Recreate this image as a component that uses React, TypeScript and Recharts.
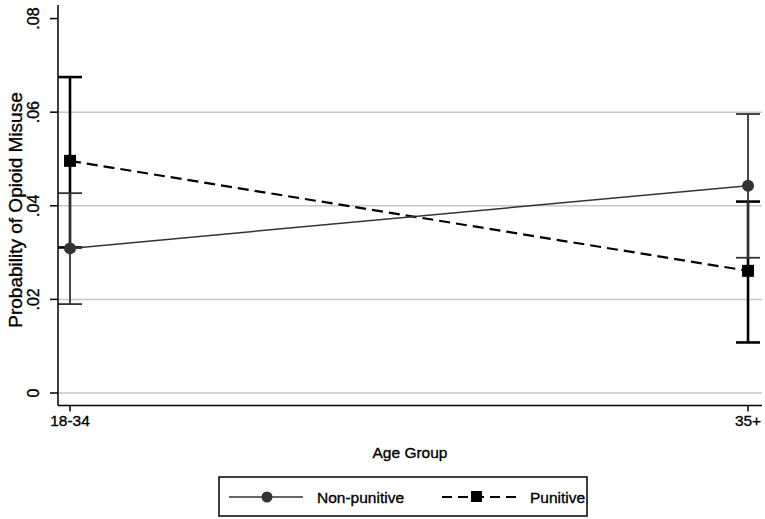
import React from 'react';
import { ComposedChart, Line, XAxis, YAxis, ErrorBar, ReferenceLine, Customized } from 'recharts';

const categories = ['18-34', '35+'];
const nonPunitive = [0.0309, 0.0443];
const nonPunitiveLow = [0.019, 0.0289];
const nonPunitiveHigh = [0.0427, 0.0596];
const punitive = [0.0496, 0.0261];
const punitiveLow = [0.0311, 0.0108];
const punitiveHigh = [0.0675, 0.0409];
const yTicks = [0, 0.02, 0.04, 0.06, 0.08];
const gridValues = [0, 0.02, 0.04, 0.06];

const FONT = '"Liberation Sans", Arial, Helvetica, sans-serif';
const THICK = { stroke: '#000', strokeWidth: 0.35 };

const data = categories.map((c, i) => ({
  x: i,
  np: nonPunitive[i],
  npErr: [nonPunitive[i] - nonPunitiveLow[i], nonPunitiveHigh[i] - nonPunitive[i]],
  p: punitive[i],
  pErr: [punitive[i] - punitiveLow[i], punitiveHigh[i] - punitive[i]],
}));

const fmtY = (v: number) => (v === 0 ? '0' : v.toFixed(2).replace(/^0/, ''));

const YTick = (props: any) => {
  const { y, payload } = props;
  return (
    <text
      x={39}
      y={y}
      transform={`rotate(-90 39 ${y})`}
      textAnchor="middle"
      fontSize={16}
      fill="#000"
      fontFamily={FONT}
      {...THICK}
    >
      {fmtY(payload.value)}
    </text>
  );
};

const XTick = (props: any) => {
  const { x, y, payload } = props;
  return (
    <text x={x} y={y} dy={12} textAnchor="middle" fontSize={15.5} fill="#000" fontFamily={FONT} {...THICK}>
      {categories[payload.value]}
    </text>
  );
};

const CircleDot = (props: any) => {
  const { cx, cy } = props;
  if (cx == null || cy == null) return null;
  return <circle cx={cx} cy={cy} r={6} fill="#333" stroke="none" />;
};

const SquareDot = (props: any) => {
  const { cx, cy } = props;
  if (cx == null || cy == null) return null;
  return <rect x={cx - 6} y={cy - 6} width={12} height={12} fill="#000" stroke="none" />;
};

const LegendBox = () => (
  <g fontFamily={FONT}>
    <rect x={219} y={477} width={368} height={39} fill="#fff" stroke="#000" strokeWidth={1.5} />
    <line x1={229} y1={497} x2={303} y2={497} stroke="#333" strokeWidth={1.5} />
    <circle cx={267} cy={497} r={5.5} fill="#333" />
    <text x={317} y={503} fontSize={15.5} fill="#000" {...THICK}>Non-punitive</text>
    <line x1={442} y1={497} x2={520} y2={497} stroke="#000" strokeWidth={2.2} strokeDasharray="10 6" />
    <rect x={471} y={491} width={11} height={11} fill="#000" />
    <text x={530} y={503} fontSize={15.5} fill="#000" {...THICK}>Punitive</text>
  </g>
);

export default function App() {
  return (
    <div style={{ position: 'absolute', left: 0, top: 0, background: '#fff' }}>
      <ComposedChart
        width={765}
        height={519}
        data={data}
        margin={{ top: 5, right: 3, left: 0, bottom: 83.5 }}
        style={{ fontFamily: FONT }}
      >
        {gridValues.map((v) => (
          <ReferenceLine key={v} y={v} stroke="#c8c8c8" strokeWidth={1.5} ifOverflow="extendDomain" />
        ))}
        <XAxis
          type="number"
          dataKey="x"
          height={30}
          domain={[-0.0177, 1.0206]}
          ticks={[0, 1]}
          allowDataOverflow
          tick={<XTick />}
          tickSize={6}
          tickMargin={2}
          axisLine={{ stroke: '#000', strokeWidth: 1.5 }}
          tickLine={{ stroke: '#000', strokeWidth: 1.5 }}
          label={{
            value: 'Age Group',
            content: () => (
              <text x={410} y={458} textAnchor="middle" fontSize={15.5} fill="#000" fontFamily={FONT} {...THICK}>
                Age Group
              </text>
            ),
          }}
        />
        <YAxis
          type="number"
          width={58}
          domain={[-0.00267, 0.0829]}
          ticks={yTicks}
          allowDataOverflow
          tick={<YTick />}
          tickSize={8}
          axisLine={{ stroke: '#000', strokeWidth: 1.5 }}
          tickLine={{ stroke: '#000', strokeWidth: 1.5 }}
          label={{
            value: 'Probability of Opioid Misuse',
            content: () => (
              <text
                x={22}
                y={210}
                transform="rotate(-90 22 210)"
                textAnchor="middle"
                fontSize={19}
                fill="#000"
                fontFamily={FONT}
                {...THICK}
              >
                Probability of Opioid Misuse
              </text>
            ),
          }}
        />
        <Line
          dataKey="p"
          stroke="#000"
          strokeWidth={2.2}
          strokeDasharray="11 6"
          dot={<SquareDot />}
          activeDot={false}
          isAnimationActive={false}
        >
          <ErrorBar dataKey="pErr" direction="y" width={12} stroke="#000" strokeWidth={2.6} />
        </Line>
        <Line
          dataKey="np"
          stroke="#333"
          strokeWidth={1.5}
          dot={<CircleDot />}
          activeDot={false}
          isAnimationActive={false}
        >
          <ErrorBar dataKey="npErr" direction="y" width={12} stroke="#333" strokeWidth={1.8} />
        </Line>
        <Customized component={LegendBox} />
      </ComposedChart>
    </div>
  );
}
